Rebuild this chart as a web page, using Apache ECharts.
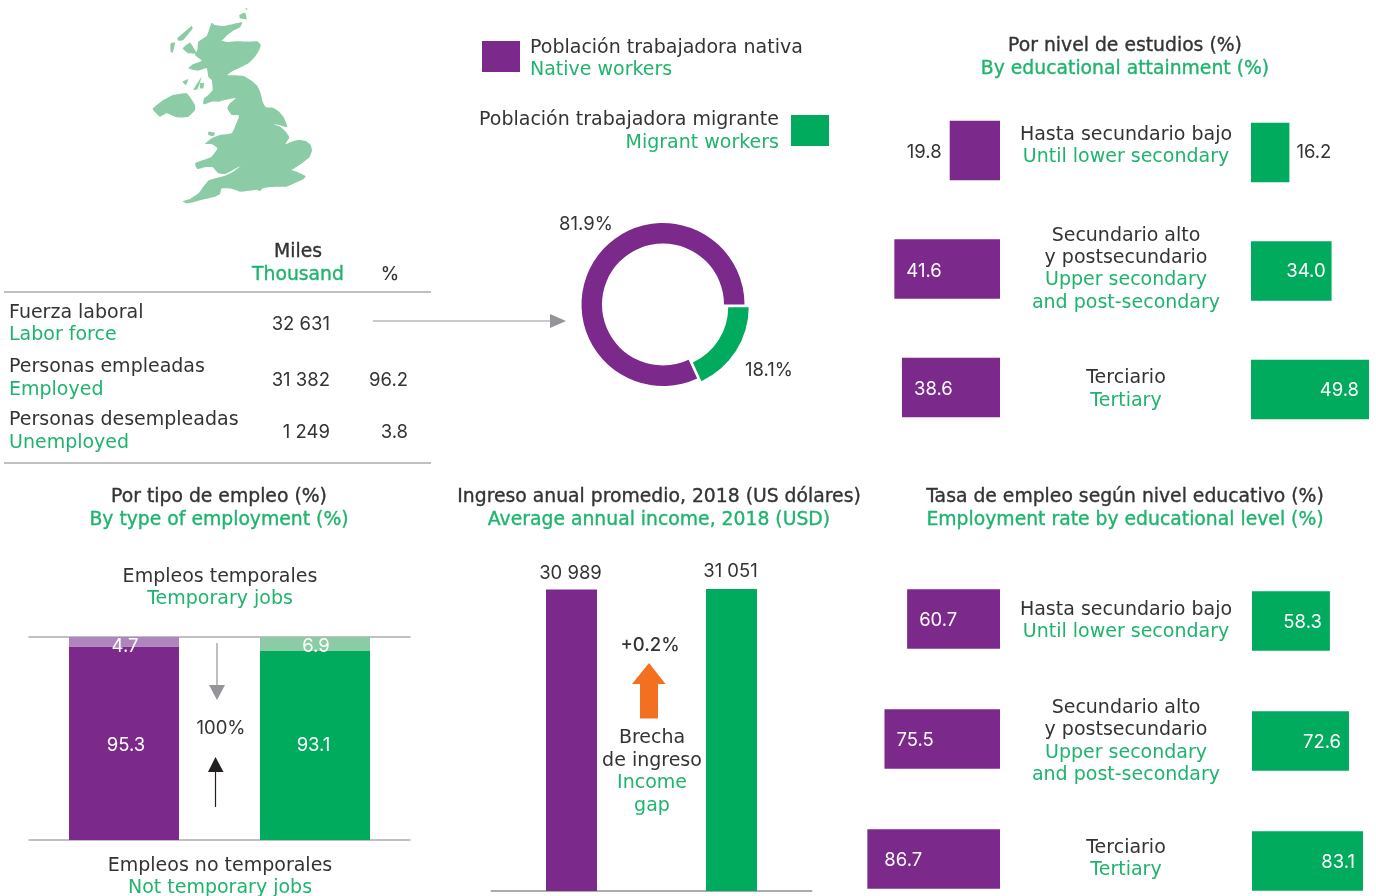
<!DOCTYPE html>
<html><head><meta charset="utf-8">
<style>html,body{margin:0;padding:0;background:#fff}#c{width:1376px;height:896px}</style>
<script src="https://cdn.jsdelivr.net/npm/echarts@6/dist/echarts.min.js"></script>
</head><body><div id="c"></div>
<script>
// ---- data ----
const attainmentNative = [19.8, 41.6, 38.6];
const attainmentMigrant = [16.2, 34.0, 49.8];
const employmentNative = [60.7, 75.5, 86.7];
const employmentMigrant = [58.3, 72.6, 83.1];
const levelCats = ['Hasta secundario bajo', 'Secundario alto', 'Terciario'];
const sharePct = [18.1, 81.9];            // migrant, native
const temporary = [4.7, 6.9];             // native, migrant
const notTemporary = [95.3, 93.1];
const income = [30989, 31051];
const incomeLabels = ['30 989', '31 051'];
const groups = ['Nativa', 'Migrante'];
const tableRows = [
  ['Fuerza laboral', 'Labor force', '32 631', ''],
  ['Personas empleadas', 'Employed', '31 382', '96.2'],
  ['Personas desempleadas', 'Unemployed', '1 249', '3.8']
];

// ---- style ----
const PURPLE = '#7B2A8B', GREEN = '#00AB5E', LPURPLE = '#AE85BC', LGREEN = '#8BCCA6';
const TXTGREEN = '#1FB46E', DARK = '#333333', GRID = '#ABABAB', ARROW = '#939598';
const FF = '"DejaVu Sans", Inter, sans-serif';
const NF = 'Inter, "Noto Sans", sans-serif';
const FS = 19, TS = 18.8, NS = 18.5;

const gfx = [];
function t(text, x, y, fill, align, weight) {
  const style = {
    text, fill: fill || DARK, textAlign: align || 'center', textVerticalAlign:'middle',
    font: '400 ' + (weight ? TS : FS) + 'px ' + FF };
  if (weight) { style.stroke = style.fill; style.lineWidth = 0.35; }
  gfx.push({type:'text', x, y: y + 2.5, silent:true, style});
}
function n(text, x, y, align, weight) {
  gfx.push({type:'text', x, y: y + 1.5, silent:true, style:{
    text, fill: DARK, textAlign: align || 'center', textVerticalAlign:'middle',
    font: (weight || 400) + ' ' + NS + 'px ' + NF }});
}
const g = TXTGREEN;
function rect(x,y,w,h,fill){gfx.push({type:'rect',shape:{x,y,width:w,height:h},style:{fill},silent:true});}
function line(x1,y1,x2,y2,stroke,lw){gfx.push({type:'line',shape:{x1,y1,x2,y2},style:{stroke,lineWidth:lw||1},silent:true});}
function poly(points,fill,smooth){gfx.push({type:'polygon',shape:{points,smooth:smooth||0},style:{fill},silent:true});}

// UK silhouette (decorative), traced at 3x around origin 140,0
const mapShapes = [
 [[215,68],[225,75],[250,78],[280,72],[307,67],[300,82],[280,92],[262,105],[250,118],[245,122],[265,126],[290,124],[325,125],[352,124],[362,135],[358,150],[345,170],[325,190],[300,203],[280,212],[262,225],[285,226],[310,228],[335,242],[352,258],[362,280],[368,305],[378,322],[398,323],[415,333],[430,350],[437,365],[442,382],[420,376],[400,373],[420,380],[435,392],[448,412],[437,432],[455,425],[475,420],[497,423],[512,435],[516,452],[508,472],[490,487],[475,497],[455,510],[470,515],[497,528],[490,538],[470,547],[440,560],[405,560],[375,563],[345,570],[320,573],[300,575],[280,568],[260,565],[245,565],[240,582],[225,590],[195,597],[165,605],[140,610],[128,604],[150,597],[175,580],[190,560],[205,542],[225,535],[255,527],[280,515],[302,498],[275,512],[255,522],[235,520],[218,502],[195,502],[172,507],[165,490],[190,480],[215,470],[232,445],[215,432],[195,432],[215,415],[240,405],[275,400],[285,380],[297,347],[275,345],[262,325],[270,310],[288,294],[265,298],[235,305],[215,305],[190,313],[192,295],[205,285],[218,270],[215,240],[205,230],[200,205],[172,212],[145,205],[160,192],[185,182],[165,165],[172,150],[175,125],[200,108]],
 [[38,327],[70,300],[100,285],[140,280],[165,315],[165,330],[145,350],[110,352],[80,340],[60,350]],
 [[112,115],[155,78],[158,85],[130,120],[115,122]],
 [[92,130],[105,128],[98,158],[92,155]],
 [[128,145],[150,128],[170,160],[145,160]],
 [[128,245],[145,238],[138,255]],
 [[160,270],[185,230],[172,268]],
 [[180,250],[192,250],[190,265],[180,265]],
 [[298,45],[315,38],[320,58],[300,55]],
 [[316,25],[322,25],[320,31]],
 [[348,567],[368,565],[360,573]],
 [[205,395],[225,398],[220,408],[205,405]]
];
mapShapes.forEach(s => poly(s.map(p => [140 + p[0]/3, p[1]/3]), LGREEN, 0.15));

// legend
rect(482,41,38,31,PURPLE);
t('Población trabajadora nativa',530,46,DARK,'left');
t('Native workers',530,68,g,'left');
rect(791,115,38,31,GREEN);
t('Población trabajadora migrante',779,118,DARK,'right');
t('Migrant workers',779,141,g,'right');

// titles
t('Por nivel de estudios (%)',1125,44,DARK,'center',500);
t('By educational attainment (%)',1125,67,g,'center',500);
t('Por tipo de empleo (%)',219,495,DARK,'center',500);
t('By type of employment (%)',219,518,g,'center',500);
t('Ingreso anual promedio, 2018 (US dólares)',659,495,DARK,'center',500);
t('Average annual income, 2018 (USD)',659,518,g,'center',500);
t('Tasa de empleo según nivel educativo (%)',1125,495,DARK,'center',500);
t('Employment rate by educational level (%)',1125,518,g,'center',500);

// row labels, top
t(levelCats[0],1126,133); t('Until lower secondary',1126,155,g);
t(levelCats[1],1126,234); t('y postsecundario',1126,256); t('Upper secondary',1126,278,g); t('and post-secondary',1126,301,g);
t(levelCats[2],1126,376); t('Tertiary',1126,399,g);
// row labels, bottom
t(levelCats[0],1126,608); t('Until lower secondary',1126,630,g);
t(levelCats[1],1126,706); t('y postsecundario',1126,728); t('Upper secondary',1126,751,g); t('and post-secondary',1126,773,g);
t(levelCats[2],1126,846); t('Tertiary',1126,868,g);

// table
t('Miles',298,250,DARK,'center',500);
t('Thousand',298,273,g,'center',500);
n('%',390,273,'center',500);
line(4,292,431,292,GRID,1.5);
line(4,463,431,463,GRID,1.5);
const rowY = [[311,333,323],[365,388,379],[418,441,431]];
tableRows.forEach((r,i)=>{
  t(r[0],9,rowY[i][0],DARK,'left');
  t(r[1],9,rowY[i][1],g,'left');
  n(r[2],330,rowY[i][2],'right');
  if(r[3]) n(r[3],408,rowY[i][2],'right');
});
line(373,321,552,321,ARROW,1);
poly([[550,314],[566,321],[550,328]],ARROW);

// donut labels
n(sharePct[1]+'%',586,223); n(sharePct[0]+'%',769,369);

// temp-jobs panel
t('Empleos temporales',220,575); t('Temporary jobs',220,597,g);
t('Empleos no temporales',220,864); t('Not temporary jobs',220,886,g);
n('100%',221,727);
line(217,643,217,688,ARROW,1.2); poly([[209,685],[225,685],[217,700]],ARROW);
line(215.5,770,215.5,807,'#231F20',1.2); poly([[208,772],[223.5,772],[215.5,757]],'#231F20');

// income panel
n('+0.2%',650,644,'center',500);
poly([[649,663],[665.5,684],[658,684],[658,718.5],[640,718.5],[640,684],[632,684]],'#F37021');
t('Brecha',652,736); t('de ingreso',652,759); t('Income',652,781,g); t('gap',652,804,g);

// ---- charts ----
const hide = {show:false};
function hBars(idx, leftPx, widthPx, topPx, heightPx, vals, color, inverse, maxV, itemLabel){
  return {
    grid:{left:leftPx,top:topPx,width:widthPx,height:heightPx},
    xAxis:{type:'value',gridIndex:idx,min:0,max:maxV,inverse,show:false},
    yAxis:{type:'category',gridIndex:idx,data:levelCats,inverse:true,show:false,boundaryGap:false},
    series:{type:'bar',xAxisIndex:idx,yAxisIndex:idx,barWidth:59.5,silent:true,animation:false,clip:false,
      itemStyle:{color},
      data:vals.map((v,i)=>({value:v,label:itemLabel(i)})),
      label:{show:true,fontFamily:NF,fontSize:NS}}
  };
}
const fmt = p=>p.value.toFixed(1);
const inL = (d,o) => ({show:true,position:'insideLeft',distance:d,color:'#fff',formatter:fmt,offset:[0,o]});
const inR = (d,o) => ({show:true,position:'insideRight',distance:d,color:'#fff',formatter:fmt,offset:[0,o]});
const panels = [
  hBars(0,873,127,150.5,237,attainmentNative,PURPLE,true,50,i=> i===0?{show:true,position:'left',distance:8,color:DARK,formatter:fmt,offset:[0,2]}:inL(12,2)),
  hBars(1,1251,118.5,152.5,237,attainmentMigrant,GREEN,false,50,i=> i===0?{show:true,position:'right',distance:7,color:DARK,formatter:fmt,offset:[0,0]}:inR(i===1?6:10,i===1?0:1)),
  hBars(2,847,153,619,240,employmentNative,PURPLE,true,100,i=>inL(i===2?17:12,1)),
  hBars(3,1252,120.24,621,240,employmentMigrant,GREEN,false,90,i=>inR(8,1))
];

const option = {
  animation:false,
  textStyle:{fontFamily:NF},
  graphic:{elements:gfx},
  grid:[...panels.map(p=>p.grid),
    {left:28.5,top:637,width:382,height:203},
    {left:491.5,top:589,width:320,height:302}],
  xAxis:[...panels.map(p=>p.xAxis),
    {type:'category',gridIndex:4,data:groups,axisLine:{show:false},axisTick:hide,axisLabel:hide},
    {type:'category',gridIndex:5,data:groups,axisLine:{show:true,onZero:false,lineStyle:{color:GRID,width:2}},axisTick:hide,axisLabel:hide}],
  yAxis:[...panels.map(p=>p.yAxis),
    {type:'value',gridIndex:4,min:0,max:100,interval:100,axisLine:hide,axisTick:hide,axisLabel:hide,splitLine:{show:true,lineStyle:{color:GRID,width:1.5}}},
    {type:'value',gridIndex:5,min:0,max:31051,axisLine:hide,axisTick:hide,axisLabel:hide,splitLine:hide}],
  series:[...panels.map(p=>p.series),
    {type:'bar',xAxisIndex:4,yAxisIndex:4,stack:'a',barWidth:110,silent:true,z:3,
      data:notTemporary.map((v,i)=>({value:v,itemStyle:{color:[PURPLE,GREEN][i]},label:{offset:[i===0?2:-1.5,i===0?2:0]}})),
      label:{show:true,position:'inside',color:'#fff',fontFamily:NF,fontSize:NS,formatter:fmt}},
    {type:'bar',xAxisIndex:4,yAxisIndex:4,stack:'a',barWidth:110,silent:true,z:3,
      data:temporary.map((v,i)=>({value:v,itemStyle:{color:[LPURPLE,LGREEN][i]},label:{offset:[1,i===0?5:2]}})),
      label:{show:true,position:'inside',color:'#fff',fontFamily:NF,fontSize:NS,formatter:fmt}},
    {type:'bar',xAxisIndex:5,yAxisIndex:5,barWidth:51,silent:true,
      data:income.map((v,i)=>({value:v,itemStyle:{color:[PURPLE,GREEN][i]},label:{formatter:incomeLabels[i],offset:[-1,i===0?-1:-2]}})),
      label:{show:true,position:'top',distance:6,color:DARK,fontFamily:NF,fontSize:NS}},
    {type:'pie',center:[663,304.5],radius:[61,81.5],startAngle:0,
      selectedMode:'multiple',selectedOffset:5,label:hide,labelLine:hide,
      emphasis:{disabled:true},
      data:[{value:sharePct[0],name:'Migrant',selected:true,itemStyle:{color:GREEN}},
            {value:sharePct[1],name:'Native',itemStyle:{color:PURPLE}}]}
  ]
};
const chart = echarts.init(document.getElementById('c'),null,{renderer:'canvas'});
chart.setOption(option);
</script></body></html>
